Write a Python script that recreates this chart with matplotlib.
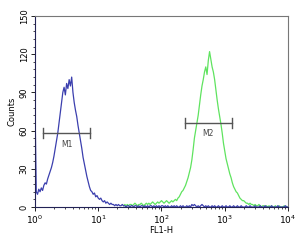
import numpy as np
import matplotlib
matplotlib.use('Agg')
import matplotlib.pyplot as plt
from matplotlib.ticker import MultipleLocator, LogLocator, NullFormatter

# control (blue) counts, log10 channels from 0.00 in 0.02 steps
blue_counts = [
    80, 12, 10, 14, 12, 15, 13, 17, 19, 18,
    22, 25, 28, 31, 35, 40, 46, 52, 58, 66,
    74, 82, 90, 94, 88, 97, 93, 100, 95, 102,
    90, 82, 76, 71, 64, 58, 52, 46, 39, 34,
    29, 24, 20, 16, 13, 12, 10, 11, 8, 9,
    7, 6, 7, 5, 4, 5, 3, 4, 3, 2,
    3, 2, 2, 1, 2, 1, 2, 1, 1, 2,
    1, 1, 0, 1, 1, 0, 1, 1, 0, 1,
    1, 0, 1, 0, 1, 1, 0, 1, 0, 1,
    0, 1, 1, 0, 1, 0, 1, 0, 1, 0,
    1, 1, 0, 1, 0, 1, 0, 0, 1, 0,
    1, 0, 1, 0, 0, 1, 0, 1, 0, 0,
    1, 0, 1, 0, 2, 1, 2, 1, 0, 1,
    0, 1, 2, 1, 0, 1, 0, 1, 0, 0,
    1, 0, 1, 0, 0, 1, 0, 0, 1, 0,
    0, 1, 0, 0, 1, 0, 0, 1, 0, 0,
    1, 0, 0, 1, 0, 0, 0, 1, 0, 0,
    1, 0, 0, 0, 1, 0, 0, 0, 1, 0,
    0, 0, 1, 0, 0, 0, 0, 1, 0, 0,
    0, 0, 1, 0, 0, 0, 0, 0, 1, 0,
    0,
]

# stained sample (green) counts, log10 channels from 1.40 in 0.02 steps
green_counts = [
    1, 2, 1, 2, 1, 2, 2, 1, 2, 3,
    2, 1, 2, 2, 3, 2, 1, 2, 3, 2,
    3, 2, 3, 4, 3, 2, 3, 4, 3, 4,
    5, 4, 3, 4, 5, 4,
    3, 4, 5, 4, 5, 6, 5, 7, 8,
    10, 12, 13, 15, 17, 20, 23, 27, 31, 37,
    45, 54, 60, 66, 72, 80, 88, 95, 100, 106,
    110, 104, 115, 122, 116, 110, 106, 100, 92, 84,
    77, 71, 65, 58, 50, 44, 38, 34, 30, 26,
    23, 19, 16, 14, 12, 11, 9, 7, 6, 5,
    5, 4, 3, 3, 2, 3, 2, 2, 1, 2,
    1, 1, 2, 1, 0, 1, 1, 0, 1, 0,
    1, 0, 1, 0, 0, 1, 0, 0, 1, 0,
    0, 0, 1, 0, 0, 0,
]

log_blue = 0.02 * np.arange(len(blue_counts))
log_green = 1.40 + 0.02 * np.arange(len(green_counts))

gates = {'M1': (1.34, 7.5, 58), 'M2': (233, 1300, 66)}

fig = plt.figure(figsize=(3.03, 2.45), dpi=100)
ax = fig.add_axes([0.1155, 0.155, 0.835, 0.78])

ax.plot(10 ** log_green, green_counts, color='#5fe35f', lw=0.9)
ax.plot(10 ** log_blue, blue_counts, color='#3b3fae', lw=0.9)

for name, (x0, x1, y) in gates.items():
    ax.plot([x0, x1], [y, y], color='#555555', lw=1.0)
    ax.plot([x0, x0], [y - 4, y + 4], color='#555555', lw=1.0)
    ax.plot([x1, x1], [y - 4, y + 4], color='#555555', lw=1.0)
    xm = np.sqrt(x0 * x1)
    ax.text(xm, y - 5, name, ha='center', va='top', fontsize=5.5, color='#444444')

ax.set_xscale('log')
ax.set_xlim(1, 1e4)
ax.set_ylim(0, 150)
ax.xaxis.set_major_locator(LogLocator(base=10, numticks=10))
ax.xaxis.set_minor_locator(LogLocator(base=10, subs=np.arange(2, 10), numticks=20))
ax.xaxis.set_minor_formatter(NullFormatter())
ax.yaxis.set_major_locator(MultipleLocator(30))
ax.yaxis.set_minor_locator(MultipleLocator(6))

ax.tick_params(axis='both', which='major', length=3, width=0.6, labelsize=6, pad=1.5)
ax.tick_params(axis='both', which='minor', length=1.5, width=0.5)
ax.tick_params(axis='x', labelsize=6.5)
for lab in ax.get_yticklabels():
    lab.set_rotation(90)
    lab.set_va('center')

ax.set_xlabel('FL1-H', fontsize=6, labelpad=0)
ax.set_ylabel('Counts', fontsize=6, labelpad=2)

for side in ['top', 'right']:
    ax.spines[side].set_color('#777777')
for side in ['left', 'bottom']:
    ax.spines[side].set_color('#222255')
for sp in ax.spines.values():
    sp.set_linewidth(0.8)

fig.savefig('out.png', dpi=100)
